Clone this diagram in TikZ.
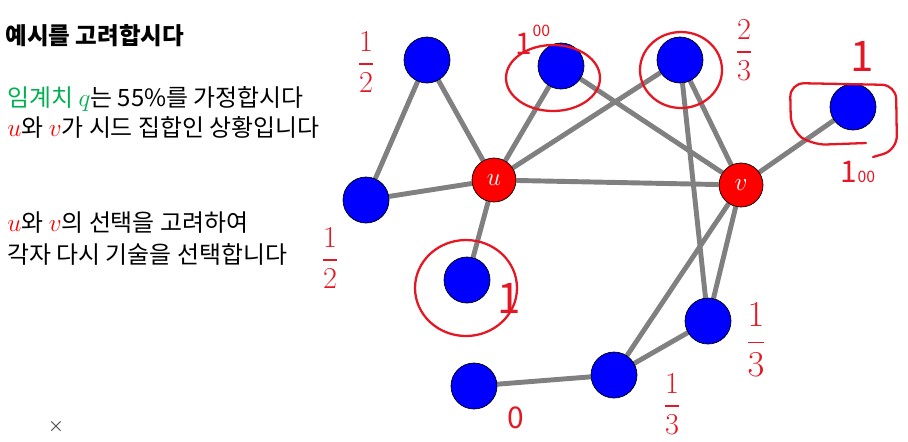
\documentclass[tikz,border=0pt]{standalone}
\usepackage{amsmath}
\usepackage{fontspec}
\setmainfont{Noto Sans CJK KR}
\definecolor{SeedRed}{RGB}{255,0,0}
\definecolor{NodeBlue}{RGB}{0,0,255}
\definecolor{EdgeGray}{RGB}{128,128,128}
\definecolor{InkRed}{RGB}{228,24,36}
\definecolor{QGreen}{RGB}{0,176,80}
\usetikzlibrary{positioning, backgrounds}
\begin{document}
\begin{tikzpicture}[x=0.02cm, y=-0.02cm,
    plain/.style={circle, draw=black, fill=NodeBlue, minimum size=0.92cm, inner sep=0pt},
    seed/.style={circle, draw=black, fill=SeedRed, minimum size=0.88cm, inner sep=0pt,
                 text=white, font=\Large},
    edge/.style={EdgeGray, line width=2.8pt},
    ink/.style={InkRed, line width=1.3pt, line cap=round},
    note/.style={text=InkRed, font=\fontsize{17}{19}\selectfont, inner sep=0pt},
    txt/.style={anchor=base west, inner sep=0pt, font=\fontsize{13.6}{15}\selectfont}
  ]
    \useasboundingbox (0,0) rectangle (908,441);

    % Text on the left
    \node[txt, font=\fontsize{13.4}{15}\selectfont\bfseries] (title) at (5,44) {예시를 고려합시다};
    \node[txt] (line1) at (7,106)
      {\textcolor{QGreen}{임계치 $q$}는 55\%를 가정합시다};
    \node[txt] (line2) at (7,136)
      {\textcolor{SeedRed}{$u$}와 \textcolor{SeedRed}{$v$}가 시드 집합인 상황입니다};
    \node[txt] (line3) at (7,231)
      {\textcolor{SeedRed}{$u$}와 \textcolor{SeedRed}{$v$}의 선택을 고려하여};
    \node[txt] (line4) at (7,263) {각자 다시 기술을 선택합니다};
    \node[text=black!70, font=\small, inner sep=0pt] (close) at (56,427) {×};

    % Graph
    \node[seed] (u) at (494,180) {$u$};
    \node[seed] (v) at (741,185) {$v$};
    \node[plain] (top) at (427,60) {};
    \node[plain] (left) at (366,200) {};
    \node[plain] (mid) at (561,66) {};
    \node[plain] (upper) at (680,60) {};
    \node[plain] (far) at (853,107) {};
    \node[plain] (below) at (467,280) {};
    \node[plain] (right) at (708,321) {};
    \node[plain] (bottom) at (614,375) {};
    \node[plain] (corner) at (474,386) {};

    \begin{scope}[on background layer]
      \draw[edge] (top) -- (left);
      \draw[edge] (top) -- (u);
      \draw[edge] (left) -- (u);
      \draw[edge] (u) -- (mid);
      \draw[edge] (u) -- (upper);
      \draw[edge] (u) -- (v);
      \draw[edge] (u) -- (below);
      \draw[edge] (mid) -- (v);
      \draw[edge] (upper) -- (v);
      \draw[edge] (upper) -- (right);
      \draw[edge] (far) -- (v);
      \draw[edge] (v) -- (bottom);
      \draw[edge] (v) -- (right);
      \draw[edge] (right) -- (bottom);
      \draw[edge] (bottom) -- (corner);
    \end{scope}

    % Handwritten notes
    \node[note] (ntop) at (366,62) {$\dfrac{1}{2}$};
    \node[note] (nleft) at (330,258) {$\dfrac{1}{2}$};
    \node[note] (nmid) at (533,40) {1\raisebox{1.1ex}{\small 00}};
    \node[note] (nupper) at (744,50) {$\dfrac{2}{3}$};
    \node[note, font=\fontsize{24}{26}\selectfont] (nfar) at (862,56) {1};
    \node[note] (nfarb) at (858,172) {1\small 00};
    \node[note, font=\fontsize{24}{26}\selectfont] (nbelow) at (509,298) {1};
    \node[note, font=\fontsize{22}{24}\selectfont] (nright) at (756,340) {$\dfrac{1}{3}$};
    \node[note] (nbottom) at (672,404) {$\dfrac{1}{3}$};
    \node[note] (ncorner) at (516,418) {0};

    \draw[ink] (mid) ++(-8,12) ellipse [x radius=47, y radius=33];
    \draw[ink] (upper) ++(1,10) ellipse [x radius=41, y radius=38];
    \draw[ink] (below) ++(-1,8) ellipse [x radius=51, y radius=48];
    \draw[ink, rounded corners=8pt] (866,143) -- (812,145) -- (791,130) -- (790,83)
      -- (896,85) -- (897,150) -- (873,157);
  \end{tikzpicture}
\end{document}
